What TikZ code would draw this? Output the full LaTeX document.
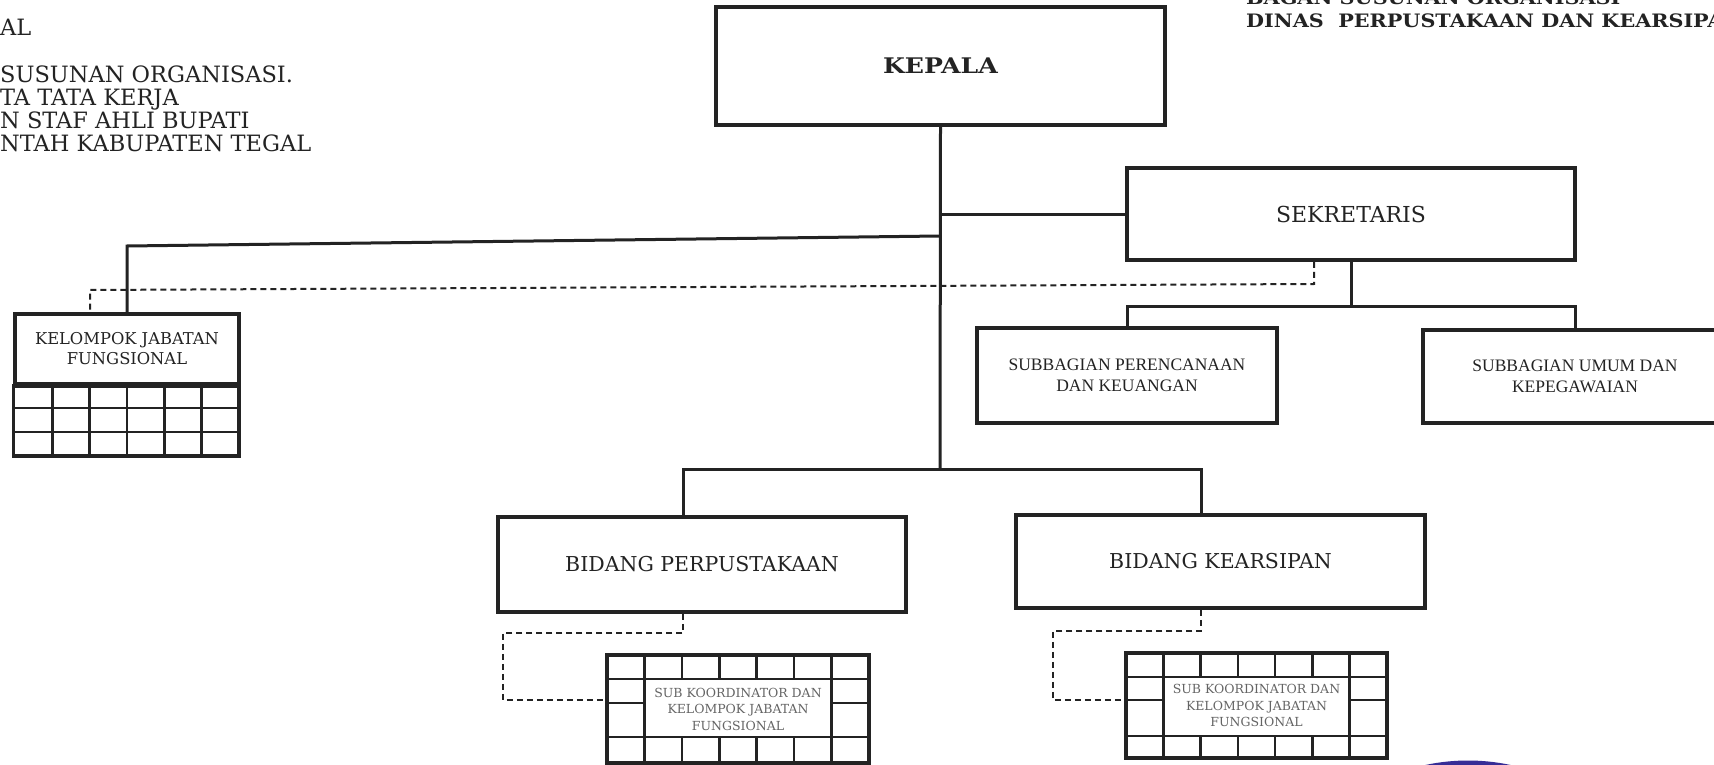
\documentclass[tikz,border=0pt]{standalone}
\usepackage{fontspec}
\setmainfont{DejaVu Serif}
\newfontfamily\tmsfont{Liberation Serif}
\usetikzlibrary{calc}
\definecolor{ink}{RGB}{35,35,35}
\definecolor{faint}{RGB}{100,100,100}
\definecolor{stamp}{RGB}{55,45,150}
\newcommand\fs[2]{\fontsize{#1}{#2}\selectfont}
\newcommand\SubGrid[7]{% x0 x1 y0 y1 ytop ybot ymid
  \foreach \i in {1,...,6}{
    \draw[gridln] ({#1+\i*(#2-#1)/7},#3) -- ({#1+\i*(#2-#1)/7},#5);
    \draw[gridln] ({#1+\i*(#2-#1)/7},#6) -- ({#1+\i*(#2-#1)/7},#4);
  }
  \draw[gridln] (#1,#5) -- (#2,#5);
  \draw[gridln] (#1,#6) -- (#2,#6);
  \draw[gridln] ({#1+(#2-#1)/7},#5) -- ({#1+(#2-#1)/7},#6);
  \draw[gridln] ({#1+6*(#2-#1)/7},#5) -- ({#1+6*(#2-#1)/7},#6);
  \draw[gridln] (#1,#7) -- ({#1+(#2-#1)/7},#7);
  \draw[gridln] ({#1+6*(#2-#1)/7},#7) -- (#2,#7);
}
\begin{document}
\begin{tikzpicture}[x=1pt,y=-1pt,
  box/.style={draw=ink,line width=3.5pt,rectangle,inner sep=0pt,align=center,text=ink},
  frame/.style={draw=ink,line width=3.5pt},
  conn/.style={draw=ink,line width=3pt},
  dconn/.style={draw=ink,line width=2pt,dash pattern=on 6pt off 4pt},
  gridln/.style={draw=ink,line width=2.5pt},
  hdr/.style={anchor=base west,inner sep=0pt,text=ink}]
\useasboundingbox (0,0) rectangle (1714,765);
\clip (0,0) rectangle (1714,765);
\fill[white] (0,0) rectangle (1714,765);

% header, left (cut off by the page edge)
\node[hdr,font=\fs{22.5}{24}] (hA) at (0,36) {AL};
\node[hdr,font=\fs{22.5}{24}] (hB) at (0,83) {SUSUNAN ORGANISASI.};
\node[hdr,font=\fs{22.5}{24}] (hC) at (0,106) {TA TATA KERJA};
\node[hdr,font=\fs{22.5}{24}] (hD) at (0,129) {N STAF AHLI BUPATI};
\node[hdr,font=\fs{22.5}{24}] (hE) at (0,152) {NTAH KABUPATEN TEGAL};
% header, right (cut off by the page edges)
\node[hdr,font=\bfseries\fs{18.5}{22}] (hR1) at (1246,5) {\scalebox{1.12}[1]{BAGAN SUSUNAN ORGANISASI}};
\node[hdr,font=\bfseries\fs{18.5}{22}] (hR2) at (1246,28) {\scalebox{1.12}[1]{DINAS\ \ PERPUSTAKAAN DAN KEARSIPAN}};

% boxes
\node[box,minimum width=449pt,minimum height=118pt,font=\bfseries\fs{21.5}{24}] (kepala) at (940.5,66) {\scalebox{1.17}[1]{KEPALA}};
\node[box,minimum width=448pt,minimum height=92pt,font=\fs{22}{26}] (sek) at (1351,214) {SEKRETARIS};
\node[box,minimum width=224pt,minimum height=70pt,font=\fs{16.3}{20}] (kjf) at (127,349) {KELOMPOK JABATAN\\FUNGSIONAL};
\node[box,minimum width=300pt,minimum height=95pt,font=\tmsfont\fs{17.5}{21}] (subper) at (1127,375.5) {SUBBAGIAN PERENCANAAN\\DAN KEUANGAN};
\node[box,minimum width=304pt,minimum height=93pt,font=\tmsfont\fs{17.5}{21}] (subumum) at (1575,376.5) {SUBBAGIAN UMUM DAN\\KEPEGAWAIAN};
\node[box,minimum width=408pt,minimum height=95pt,font=\fs{20.5}{24}] (bidper) at (702,564.5) {BIDANG PERPUSTAKAAN};
\node[box,minimum width=409pt,minimum height=93pt,font=\fs{20.5}{24}] (bidkear) at (1220.5,561.5) {BIDANG KEARSIPAN};
\node[box,minimum width=262pt,minimum height=108pt,font=\fs{12.5}{16.5},text=faint] (subk1) at (738,709) {SUB KOORDINATOR DAN\\KELOMPOK JABATAN\\FUNGSIONAL};
\node[box,minimum width=261pt,minimum height=105pt,font=\fs{12.5}{16.5},text=faint] (subk2) at (1256.5,705.5) {SUB KOORDINATOR DAN\\KELOMPOK JABATAN\\FUNGSIONAL};

% grid of the functional group box
\draw[frame] (kjf.south west) rectangle (239,456);
\draw[gridln] (15,408) -- (239,408);
\draw[gridln] (15,432) -- (239,432);
\foreach \i in {1,...,5}{\draw[gridln] ({15+\i*224/6},384) -- ({15+\i*224/6},456);}

% grids of the sub-coordinator boxes
\SubGrid{607}{869}{655}{763}{679}{737}{703}
\SubGrid{1126}{1387}{653}{758}{677}{736}{700}

% solid connectors
\coordinate (tj) at (940,469);
\coordinate (bpTop) at (683,517);
\coordinate (bkTop) at (1201,515);
\draw[conn] (kepala.south) -- (tj);
\draw[conn] (bpTop) |- (tj) -| (bkTop);
\draw[conn] (sek.west -| kepala.south) -- (sek.west);
\coordinate (kjA) at (940,236);
\coordinate (kjB) at (127,246);
\draw[conn] (kjA) -- (kjB) -- (kjf.north);
\coordinate (sj) at (1351,306);
\draw[conn] (sek.south) -- (sj);
\draw[conn] (subper.north) |- (sj) -| (subumum.north);

% dashed connectors
\coordinate (sd) at (1314,284);
\coordinate (kd) at (90,290);
\draw[dconn] (sek.south -| sd) -- (sd) -- (kd) -- (kjf.north west -| kd);
\coordinate (p1) at (683,633);
\coordinate (p2) at (503,700);
\draw[dconn] (bidper.south -| p1) -- (p1) -| (p2) -- (subk1.west |- p2);
\coordinate (q1) at (1201,631);
\coordinate (q2) at (1053,700);
\draw[dconn] (bidkear.south -| q1) -- (q1) -| (q2) -- (subk2.west |- q2);

% stamp edge at the bottom
\draw[stamp,line width=5pt] (1468,963) circle[radius=200];
\end{tikzpicture}
\end{document}
